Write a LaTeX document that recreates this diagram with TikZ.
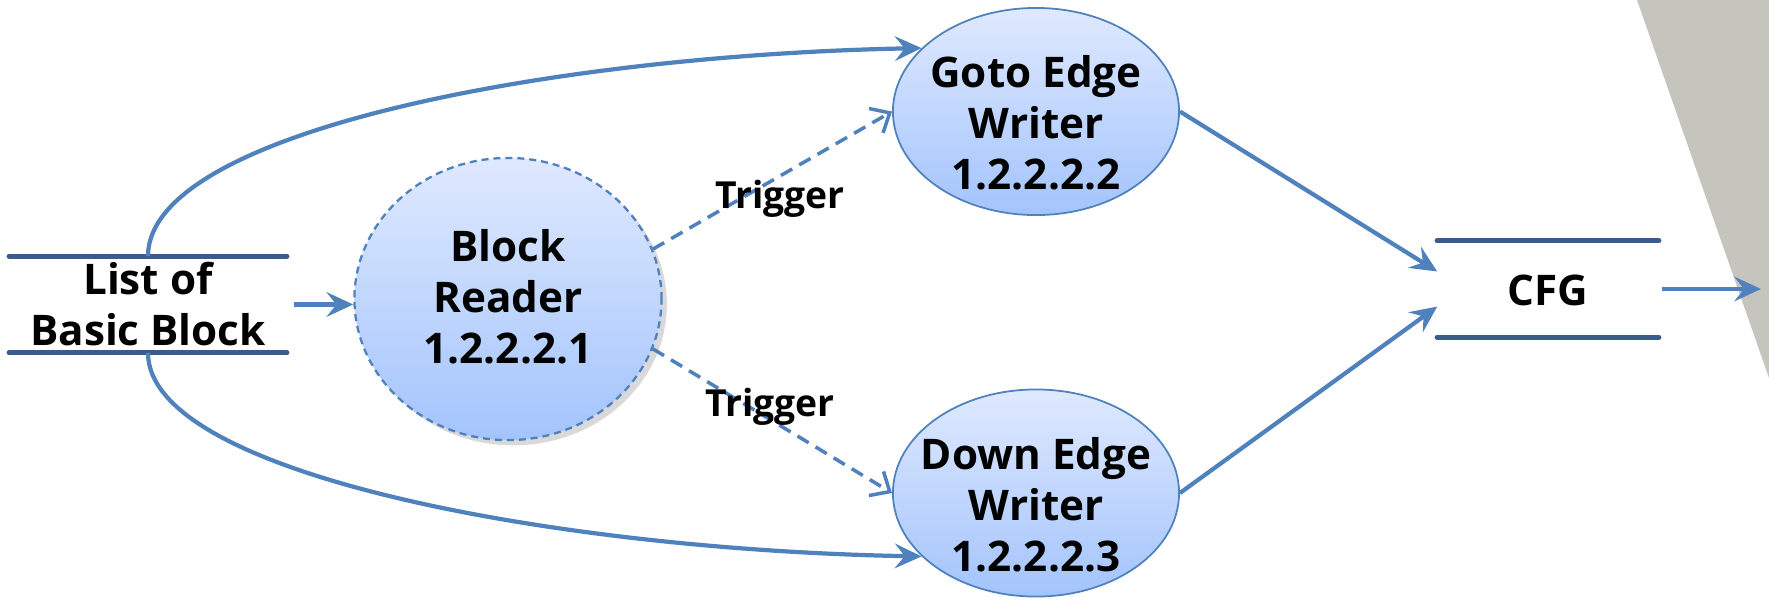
\documentclass[tikz,border=0pt]{standalone}
\usepackage{fontspec}
\setmainfont{Open Sans}
\usetikzlibrary{arrows.meta,shapes.geometric,shadows}
\definecolor{flow}{RGB}{79,129,189}
\definecolor{store}{RGB}{56,93,138}
\definecolor{fillTop}{RGB}{223,233,254}
\definecolor{fillBot}{RGB}{163,196,252}
\definecolor{slide}{RGB}{197,197,189}
\begin{document}
\begin{tikzpicture}[x=0.01cm,y=-0.01cm,
  every node/.style={font=\fontsize{12}{14.5}\selectfont\bfseries, align=center},
  proc/.style={ellipse, draw=flow, line width=0.5pt, top color=fillTop, bottom color=fillBot, inner sep=0pt},
  datastore/.style={minimum width=2.76cm, minimum height=0.95cm, inner sep=0pt},
  storeline/.style={draw=store, line width=1.5pt, line cap=round},
  flowline/.style={draw=flow, line width=1.2pt, -{Stealth[length=7.6pt,width=7pt,inset=2.8pt]}},
  trigger/.style={draw=flow, line width=1pt, dash pattern=on 3.7pt off 2.3pt, -{Straight Barb[length=4.5pt,width=8pt]}},
  triglabel/.style={anchor=base, font=\fontsize{10.6}{13}\selectfont\bfseries}]
\useasboundingbox (0,0) rectangle (1769,599);
\fill[slide] (1637,0) -- (1769,0) -- (1769,378) -- cycle;

\node[datastore] (list) at (148,304.5) {List of\\Basic Block};
\node[datastore, minimum width=2.2cm] (cfg) at (1548,289) {};
\node[anchor=base] (cfg-txt) at (1548,305.5) {CFG};
\node[proc, minimum width=3.07cm, minimum height=2.82cm, dash pattern=on 2pt off 1.4pt, line width=0.65pt,
  drop shadow={shadow xshift=1.5pt, shadow yshift=-1.5pt, opacity=0.3}] (reader) at (508,299) {};
\node[proc, minimum width=2.86cm, minimum height=2.07cm] (goto) at (1036,111.5) {};
\node[proc, minimum width=2.86cm, minimum height=2.07cm] (down) at (1036,493) {};
\node (reader-txt) at (508,296.5) {Block\\Reader\\1.2.2.2.1};
\node (goto-txt) at (1036,123) {Goto Edge\\Writer\\1.2.2.2.2};
\node (down-txt) at (1036,505) {Down Edge\\Writer\\1.2.2.2.3};
\coordinate (out) at (1761,289);

\path[storeline] (list.north west) -- (list.north east);
\path[storeline] (list.south west) -- (list.south east);
\path[storeline] (cfg.north west) -- (cfg.north east);
\path[storeline] (cfg.south west) -- (cfg.south east);

\path[flowline, shorten <=2pt] (list.east) -- (list.east -| reader.west);
\path[flowline] (list.north) .. controls (148,130) and (560,55) .. (goto.151);
\path[flowline] (list.south) .. controls (148,475) and (560,550) .. (down.209);
\path[trigger] (reader.19) -- (goto.west);
\path[trigger] (reader.-19) -- (down.west);
\path[flowline] (goto.east) -- (cfg.171);
\path[flowline] (down.east) -- (cfg.189);
\path[flowline, shorten <=1pt] (cfg.east) -- (out);
\node[triglabel] (trig-up) at (780,208) {Trigger};
\node[triglabel] (trig-down) at (770,416) {Trigger};
\end{tikzpicture}
\end{document}
